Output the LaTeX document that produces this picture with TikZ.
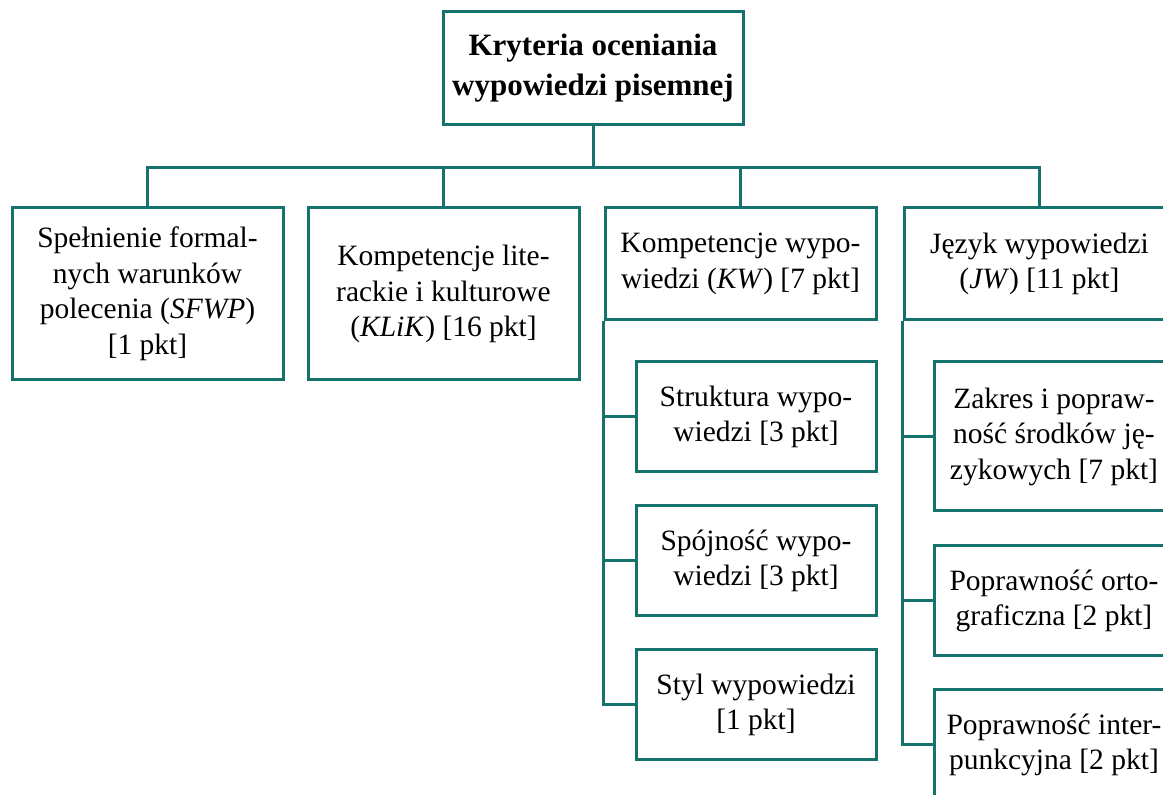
\documentclass[tikz,border=0pt]{standalone}
\usepackage{fontspec}
\setmainfont{Liberation Serif}
\definecolor{ramka}{RGB}{22,114,108}

\begin{document}
\begin{tikzpicture}[x=0.5pt,y=-0.5pt,
every node/.style={draw=ramka, line width=1.5pt, align=center, inner sep=0pt, font=\fontsize{14.75}{17.75}\selectfont},
glowny/.style={minimum width=150pt, minimum height=56.5pt, font=\bfseries\fontsize{15.5}{20}\selectfont},
wysoki/.style={minimum width=135.5pt, minimum height=86pt},
niski/.style={minimum width=135.5pt, minimum height=56pt},
maly/.style={minimum width=120pt, minimum height=55pt},
laczenie/.style={draw=ramka, line width=1.5pt}]
\useasboundingbox (0,0) rectangle (1163,795);
\clip (0,0) rectangle (1163,795);

\node[glowny] (kryt) at (593,68.5) {Kryteria oceniania\\wypowiedzi pisemnej};

\node[wysoki] (sfwp) at (147.5,294) {Spełnienie formal-\\nych warunków\\polecenia (\textit{SFWP})\\{[1 pkt]}};
\node[wysoki] (klik) at (443.5,294) {Kompetencje lite-\\rackie i kulturowe\\(\textit{KLiK}) [16 pkt]};
\node[niski] (kw) at (740.5,264) {Kompetencje wypo-\\wiedzi (\textit{KW}) [7 pkt]};
\node[niski] (jw) at (1039.5,264) {Język wypowiedzi\\(\textit{JW}) [11 pkt]};

\node[maly] (kw1) at (756,417) {Struktura wypo-\\wiedzi [3 pkt]};
\node[maly] (kw2) at (756,561) {Spójność wypo-\\wiedzi [3 pkt]};
\node[maly] (kw3) at (756,705) {Styl wypowiedzi\\{[1 pkt]}};

\node[maly, minimum height=74.5pt] (jw1) at (1054,436.5) {Zakres i popraw-\\ność środków ję-\\zykowych [7 pkt]};
\node[maly] (jw2) at (1054,601) {Poprawność orto-\\graficzna [2 pkt]};
\node[maly] (jw3) at (1054,745) {Poprawność inter-\\punkcyjna [2 pkt]};

\coordinate (szyna) at (593,168);
\draw[laczenie] (kryt.south) -- (szyna);
\draw[laczenie] (sfwp.north) -- (sfwp.north |- szyna) -- (jw.north |- szyna) -- (jw.north);
\draw[laczenie] (klik.north) -- (klik.north |- szyna);
\draw[laczenie] (kw.north) -- (kw.north |- szyna);

\draw[laczenie] (kw.south west) |- (kw3.west);
\draw[laczenie] (kw.south west |- kw1.west) -- (kw1.west);
\draw[laczenie] (kw.south west |- kw2.west) -- (kw2.west);

\draw[laczenie] (jw.south west) |- (jw3.west);
\draw[laczenie] (jw.south west |- jw1.west) -- (jw1.west);
\draw[laczenie] (jw.south west |- jw2.west) -- (jw2.west);
\end{tikzpicture}
\end{document}
